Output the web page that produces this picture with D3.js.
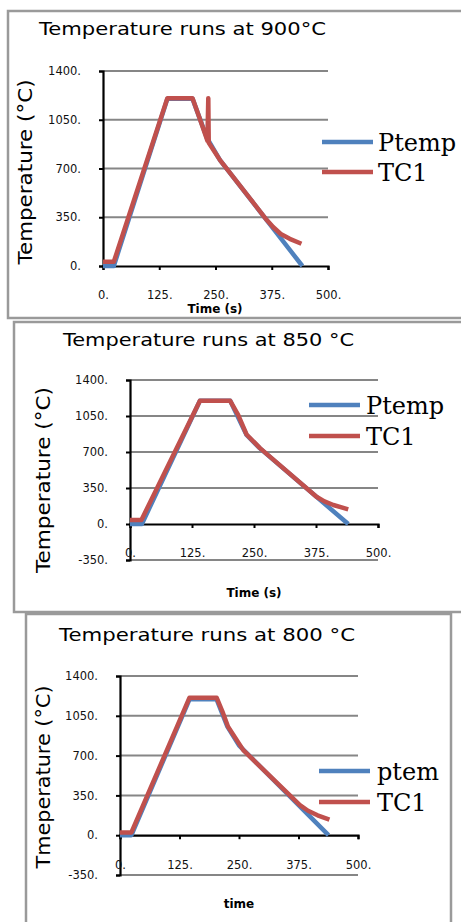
<!DOCTYPE html>
<html>
<head>
<meta charset="utf-8">
<script src="https://cdn.jsdelivr.net/npm/d3@7"></script>
<style>
  body { margin: 0; background: #fff; }
  svg { display: block; }
  .tick text { font-family: "DejaVu Sans", Verdana, sans-serif; font-size: 11.5px; fill: #111; }
</style>
</head>
<body>
<script>
// data: [time (s), temperature (°C)]
var xTicks = [0, 125, 250, 375, 500];
var yTicks900 = [0, 350, 700, 1050, 1400];
var yTicksLow = [-350, 0, 350, 700, 1050, 1400];

var ptemp900 = [[0, 0], [24, 0], [143, 1200], [199, 1200], [231, 920], [260, 760], [443, 0]];
var tc1_900 = [[0, 30], [24, 30], [143, 1204], [199, 1204], [218, 1030], [232, 900], [234, 1205], [235, 885],
  [248, 820], [260, 760], [364, 330], [378, 280], [395, 230], [415, 195], [441, 160]];

var ptemp850 = [[0, 0], [24, 0], [141, 1198], [202, 1198], [235, 865], [262, 735], [440, 0]];
var tc1_850 = [[0, 39], [23, 39], [141, 1198], [202, 1198], [218, 1060], [235, 870], [262, 738],
  [376, 265], [392, 220], [410, 185], [440, 143]];

var ptemp800 = [[0, 0], [24, 0], [146, 1195], [203, 1195], [225, 960], [250, 790], [438, 0]];
var tc1_800 = [[0, 24], [24, 24], [146, 1209], [203, 1209], [215, 1090], [227, 954], [259, 748],
  [378, 264], [395, 215], [415, 175], [440, 138]];

var blue = "#4f81bd", red = "#c0504d", grid = "#868686";

var svg = d3.select("body").append("svg")
  .attr("width", 461)
  .attr("height", 922);

// one panel = frame, title, axes, two lines, legend
var drawPanel = function (p) {
  var g = svg.append("g");

  g.append("rect")
    .attr("x", p.frame[0]).attr("y", p.frame[1])
    .attr("width", p.frame[2] - p.frame[0]).attr("height", p.frame[3] - p.frame[1])
    .attr("fill", "#fff").attr("stroke", "#9a9a9a").attr("stroke-width", 2.5);

  var x = d3.scaleLinear().domain([0, 500]).range([p.x0, p.x1]);
  var y = d3.scaleLinear().domain([p.yTicks[0], 1400]).range([p.yBottom, p.yTop]);

  // gridlines
  g.selectAll(".grid").data(p.yTicks.filter(function (d) { return d !== 0; }))
    .enter().append("line")
    .attr("x1", p.x0).attr("x2", p.x1)
    .attr("y1", function (d) { return y(d); }).attr("y2", function (d) { return y(d); })
    .attr("stroke", grid).attr("stroke-width", 2);

  // y axis
  var ya = g.append("g")
    .attr("transform", "translate(" + p.x0 + ",0)")
    .call(d3.axisLeft(y).tickValues(p.yTicks).tickSize(4).tickPadding(18)
      .tickFormat(function (d) { return d + "."; }));
  ya.select(".domain").attr("stroke", "#000").attr("stroke-width", 2.2);
  ya.selectAll(".tick line").attr("stroke", "#000").attr("stroke-width", 2);

  // x axis sits at 0
  var xa = g.append("g")
    .attr("transform", "translate(0," + y(0) + ")")
    .call(d3.axisBottom(x).tickValues(xTicks).tickSize(4).tickPadding(p.xPad)
      .tickFormat(function (d) { return d + "."; }));
  xa.select(".domain").attr("stroke", "#000").attr("stroke-width", 2.2);
  xa.selectAll(".tick line").attr("stroke", "#000").attr("stroke-width", 2);

  var line = d3.line()
    .x(function (d) { return x(d[0]); })
    .y(function (d) { return y(d[1]); });

  g.append("path").datum(p.ptemp).attr("d", line)
    .attr("fill", "none").attr("stroke", blue).attr("stroke-width", 4.5).attr("stroke-linejoin", "round");
  g.append("path").datum(p.tc1).attr("d", line)
    .attr("fill", "none").attr("stroke", red).attr("stroke-width", 4.5).attr("stroke-linejoin", "round");

  // titles
  g.append("text")
    .attr("x", p.title[0]).attr("y", p.title[1])
    .attr("textLength", p.title[2]).attr("lengthAdjust", "spacingAndGlyphs")
    .style("font-family", "DejaVu Sans, Verdana, sans-serif").style("font-size", "18px")
    .text(p.titleText);

  g.append("text")
    .attr("transform", "translate(" + p.yLabel[0] + "," + p.yLabel[1] + ") rotate(-90)")
    .attr("text-anchor", "middle")
    .attr("textLength", p.yLabel[2]).attr("lengthAdjust", "spacingAndGlyphs")
    .style("font-family", "DejaVu Sans, Verdana, sans-serif").style("font-size", "20px")
    .text(p.yLabelText);

  g.append("text")
    .attr("x", p.xLabel[0]).attr("y", p.xLabel[1])
    .attr("text-anchor", "middle")
    .style("font-family", "DejaVu Sans, Verdana, sans-serif").style("font-size", "12px")
    .style("font-weight", "bold")
    .text(p.xLabelText);

  // legend
  var items = [[p.names[0], blue], [p.names[1], red]];
  items.forEach(function (it, i) {
    var ly = p.legend[1] + i * p.legend[3];
    g.append("line")
      .attr("x1", p.legend[0]).attr("x2", p.legend[0] + 51)
      .attr("y1", ly).attr("y2", ly)
      .attr("stroke", it[1]).attr("stroke-width", 4.5);
    g.append("text")
      .attr("x", p.legend[2]).attr("y", ly + 9)
      .style("font-family", "DejaVu Serif, serif").style("font-size", "24px")
      .text(it[0]);
  });
};

drawPanel({
  frame: [8, 11, 475, 318],
  x0: 103, x1: 328, yTop: 71, yBottom: 266, yTicks: yTicks900, xPad: 21,
  ptemp: ptemp900, tc1: tc1_900,
  title: [39, 35, 287], titleText: "Temperature runs at 900°C",
  yLabel: [32, 172, 185], yLabelText: "Temperature (°C)",
  xLabel: [215, 313], xLabelText: "Time (s)",
  legend: [322, 142, 378, 30], names: ["Ptemp", "TC1"]
});

drawPanel({
  frame: [14, 322, 475, 612],
  x0: 130, x1: 378, yTop: 380, yBottom: 560, yTicks: yTicksLow, xPad: 21,
  ptemp: ptemp850, tc1: tc1_850,
  title: [63, 346, 291], titleText: "Temperature runs at 850 °C",
  yLabel: [50, 480, 186], yLabelText: "Temperature (°C)",
  xLabel: [254, 597], xLabelText: "Time (s)",
  legend: [309, 405, 366, 31], names: ["Ptemp", "TC1"]
});

drawPanel({
  frame: [26, 614, 451, 935],
  x0: 120, x1: 358, yTop: 676, yBottom: 875, yTicks: yTicksLow, xPad: 22,
  ptemp: ptemp800, tc1: tc1_800,
  title: [59, 641, 296], titleText: "Temperature runs  at 800 °C",
  yLabel: [50, 777, 183], yLabelText: "Tmeperature (°C)",
  xLabel: [239, 908], xLabelText: "time",
  legend: [319, 771, 377, 31], names: ["ptem", "TC1"]
});
</script>
</body>
</html>
